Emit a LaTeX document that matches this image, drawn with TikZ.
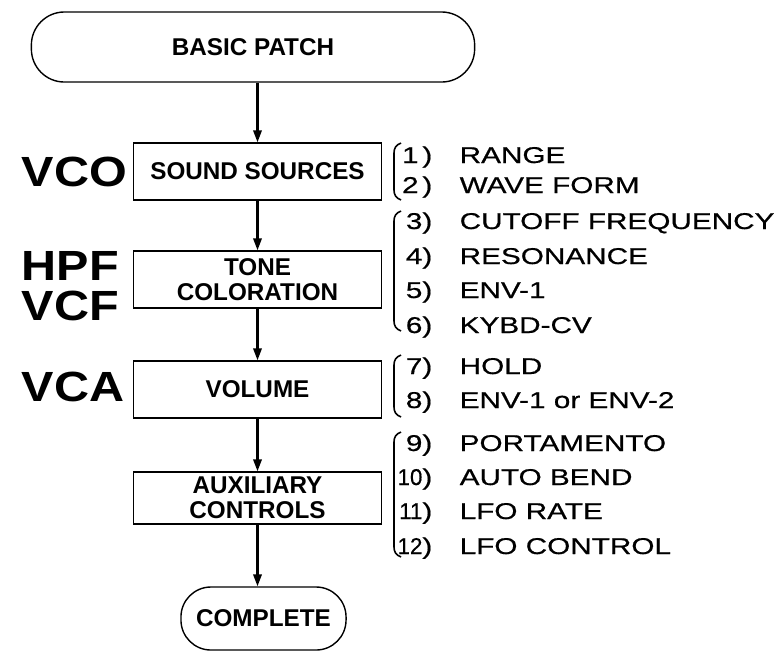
\documentclass[tikz,border=0pt]{standalone}
\usepackage{fontspec}
\usepackage{graphicx}
\setmainfont{Liberation Sans}
\newfontfamily\listfont[FakeStretch=1.3, FakeBold=0.6]{Liberation Sans}
\newfontfamily\vcxfont[FakeStretch=1.15]{Liberation Sans}
\usetikzlibrary{arrows.meta}

\tikzset{
  box/.style={draw, line width=0.4pt, minimum width=2.48cm, minimum height=0.57cm,
    inner sep=0pt, align=center, font=\fontsize{6.9pt}{7pt}\selectfont\bfseries},
  ends/.style={box, rounded corners=0.30cm},
  flow/.style={->, line width=0.6pt},
  vcx/.style={anchor=west, inner sep=0pt, font=\vcxfont\fontsize{12pt}{13pt}\selectfont\bfseries},
  num/.style={anchor=base east, inner sep=0pt, font=\listfont\fontsize{6.5pt}{7pt}\selectfont},
  item/.style={anchor=base west, inner sep=0pt, font=\listfont\fontsize{6.5pt}{7pt}\selectfont},
  bracket/.style={line width=0.45pt}
}

\begin{document}
\begin{tikzpicture}[x=0.01cm, y=-0.01cm, >={Triangle[length=3.4pt,width=2.4pt]}]

    \useasboundingbox (0,0) rectangle (782,657);

    % Flow of the patch
    \node[ends, minimum width=4.43cm, minimum height=0.70cm, rounded corners=0.33cm]
        (basic) at (253,47) {BASIC PATCH};
    \node[box] (sound) at (257.5,171.5) {SOUND SOURCES};
    \node[box] (tone) at (257.5,279.5) {TONE\\COLORATION};
    \node[box] (volume) at (257.5,389.5) {VOLUME};
    \node[box, minimum height=0.52cm] (aux) at (257.5,498) {AUXILIARY\\CONTROLS};
    \node[ends, minimum width=1.65cm, minimum height=0.63cm]
        (complete) at (263.5,618.5) {COMPLETE};

    \draw[flow] (basic.south -| sound.north) -- (sound.north);
    \draw[flow] (sound.south) -- (tone.north);
    \draw[flow] (tone.south) -- (volume.north);
    \draw[flow] (volume.south) -- (aux.north);
    \draw[flow] (aux.south) -- (aux.south |- complete.north);

    % Module names on the left
    \node[vcx] (vco) at (21,172) {VCO};
    \node[vcx] (hpf) at (21,266) {HPF};
    \node[vcx] (vcf) at (21,306) {VCF};
    \node[vcx] (vca) at (21,387) {VCA};

    % Sound sources
    \draw[bracket] (401,143) .. controls (396,145) and (394,148) .. (394,153)
        -- (394,190) .. controls (394,195) and (396,198) .. (401,200);
    \node[num] (n1) at (433,163) {1\,)};
    \node[item] (t1) at (459,163) {RANGE};
    \node[num] (n2) at (433,193) {2\,)};
    \node[item] (t2) at (459,193) {WAVE FORM};

    % Tone coloration
    \draw[bracket] (401,211) .. controls (396,213) and (394,216) .. (394,221)
        -- (394,321) .. controls (394,326) and (396,329) .. (401,331);
    \node[num] (n3) at (433,229) {3)};
    \node[item] (t3) at (459,229) {CUTOFF FREQUENCY};
    \node[num] (n4) at (433,264) {4)};
    \node[item] (t4) at (459,264) {RESONANCE};
    \node[num] (n5) at (433,298) {5)};
    \node[item] (t5) at (459,298) {ENV-1};
    \node[num] (n6) at (433,333) {6)};
    \node[item] (t6) at (459,333) {KYBD-CV};

    % Volume
    \draw[bracket] (401,355) .. controls (396,357) and (394,360) .. (394,365)
        -- (394,407) .. controls (394,412) and (396,415) .. (401,417);
    \node[num] (n7) at (433,374) {7)};
    \node[item] (t7) at (459,374) {HOLD};
    \node[num] (n8) at (433,408) {8)};
    \node[item] (t8) at (459,408) {ENV-1 or ENV-2};

    % Auxiliary controls
    \draw[bracket] (401,432) .. controls (396,434) and (394,437) .. (394,442)
        -- (394,547) .. controls (394,552) and (396,555) .. (401,557);
    \node[num] (n9) at (433,451) {9)};
    \node[item] (t9) at (459,451) {PORTAMENTO};
    \node[num] (n10) at (433,485) {\scalebox{0.75}[1]{10})};
    \node[item] (t10) at (459,485) {AUTO BEND};
    \node[num] (n11) at (433,519) {\scalebox{0.75}[1]{11})};
    \node[item] (t11) at (459,519) {LFO RATE};
    \node[num] (n12) at (433,554) {\scalebox{0.75}[1]{12})};
    \node[item] (t12) at (459,554) {LFO CONTROL};

\end{tikzpicture}
\end{document}
